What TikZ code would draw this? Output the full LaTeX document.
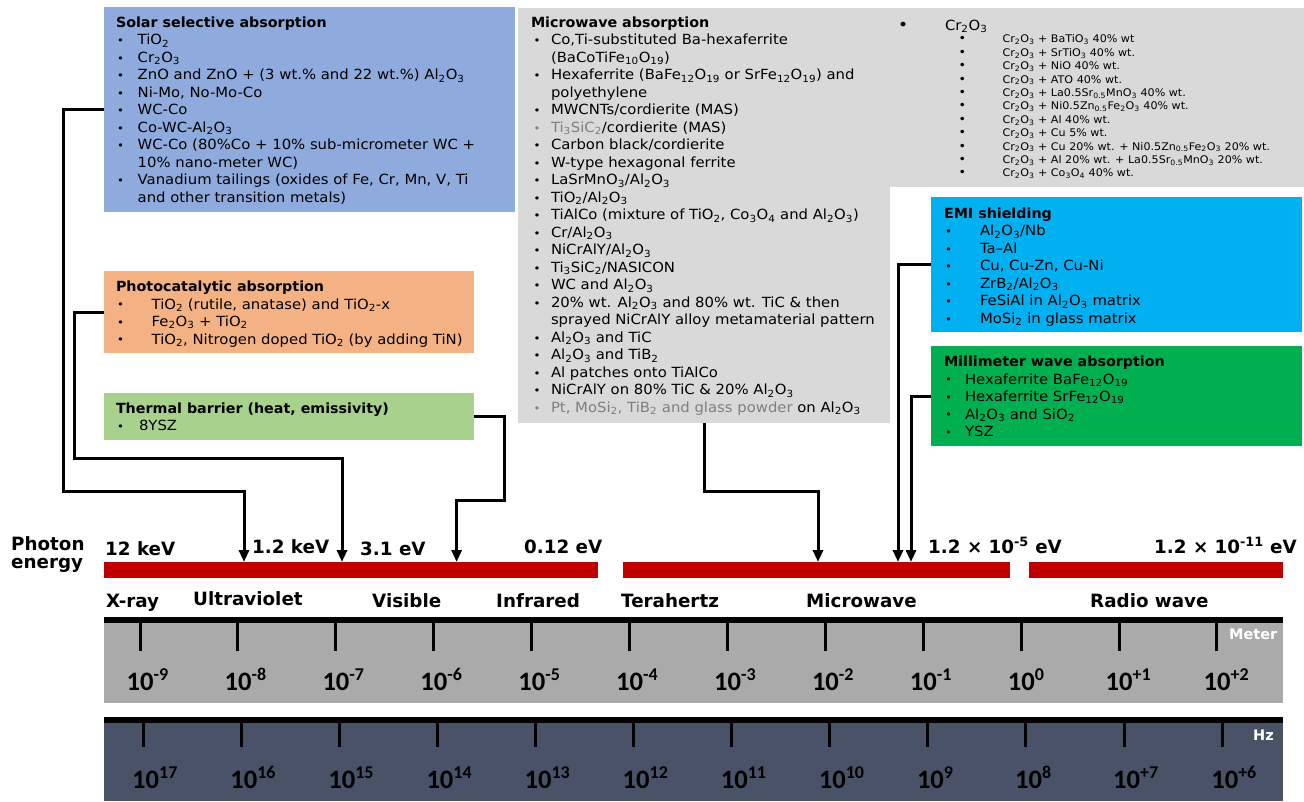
\documentclass[tikz,border=0pt]{standalone}
\usepackage{fontspec}
\setmainfont{DejaVu Sans}
\newfontfamily\bx[FakeStretch=1.06]{DejaVu Sans}
\newfontfamily\bxb[FakeStretch=1.02]{DejaVu Sans}
\newfontfamily\calib{Carlito}
\usetikzlibrary{arrows.meta}
\definecolor{solarc}{HTML}{8FAADC}
\definecolor{photoc}{HTML}{F4B183}
\definecolor{thermc}{HTML}{A9D18E}
\definecolor{grayc}{HTML}{D9D9D9}
\definecolor{emic}{HTML}{00B0F0}
\definecolor{mmc}{HTML}{00B050}
\definecolor{barc}{HTML}{C00000}
\definecolor{meterc}{HTML}{AAAAAA}
\definecolor{hzc}{HTML}{4A5268}
\definecolor{greytxt}{HTML}{7F7F7F}
\newcommand\sbx[1]{\textsubscript{#1}}
\newcommand\spx[1]{\textsuperscript{#1}}
\newcommand\bl[2][1pt]{\makebox[#2][l]{\hspace*{#1}\raisebox{0.3pt}{\fontsize{11}{11}\selectfont •}}}
\newcommand\sbl{\makebox[44pt][l]{\fontsize{12}{12}\selectfont •}}
\newcommand\cro{Cr\sbx{2}O\sbx{3}}
\newcommand\alo{Al\sbx{2}O\sbx{3}}
\newcommand\tp[1]{{\calib\bfseries\fontsize{26.6}{26.6}\selectfont 10\raisebox{10pt}{\fontsize{18}{18}\selectfont #1}}}
\begin{document}
\begin{tikzpicture}[x=1pt,y=-1pt,
 box/.style={rectangle, inner sep=0pt, outer sep=0pt, anchor=north west},
 txt/.style={inner sep=0pt, outer sep=0pt, anchor=north west, align=left, font={\bx\fontsize{14}{17.5}\selectfont}},
 smalltxt/.style={txt, font={\bx\fontsize{10.5}{13.4}\selectfont}},
 conn/.style={line width=3pt, -{Triangle[length=12pt,width=10pt]}},
 lbl/.style={inner sep=0pt, anchor=base west, font={\bfseries\fontsize{18.3}{18.3}\selectfont}},
 tickline/.style={line width=3pt},
 num/.style={inner sep=0pt, anchor=base west},
 unitlbl/.style={inner sep=0pt, anchor=base west, text=white, font={\bfseries\fontsize{14.5}{14.5}\selectfont}}
]
\useasboundingbox (0,0) rectangle (1304,801);

% boxes
\node[box, fill=solarc, minimum width=411, minimum height=205] (solar) at (104,7) {};
\node[box, fill=photoc, minimum width=370, minimum height=82] (photo) at (104,271) {};
\node[box, fill=thermc, minimum width=370, minimum height=47] (therm) at (104,393) {};
\node[box, fill=grayc, minimum width=415, minimum height=179] (crbox) at (889,8) {};
\node[box, fill=grayc, minimum width=372, minimum height=415] (micro) at (518,8) {};
\node[box, fill=emic, minimum width=371, minimum height=135] (emi) at (931,197) {};
\node[box, fill=mmc, minimum width=371, minimum height=100] (mm) at (931,346) {};

% box texts
\node[txt] (solartxt) at (116,16.7) {{\bxb\bfseries Solar selective absorption}\\
\bl{21.7pt}TiO\sbx{2}\\
\bl{21.7pt}\cro\\
\bl{21.7pt}ZnO and ZnO + (3 wt.\% and 22 wt.\%) \alo\\
\bl{21.7pt}Ni-Mo, No-Mo-Co\\
\bl{21.7pt}WC-Co\\
\bl{21.7pt}Co-WC-\alo\\
\bl{21.7pt}WC-Co (80\%Co + 10\% sub-micrometer WC +\\
\hspace*{21.7pt}10\% nano-meter WC)\\
\bl{21.7pt}Vanadium tailings (oxides of Fe, Cr, Mn, V, Ti\\
\hspace*{21.7pt}and other transition metals)};

\node[txt] (phototxt) at (116,281) {{\bxb\bfseries Photocatalytic absorption}\\
\bl{35.7pt}TiO\sbx{2} (rutile, anatase) and TiO\sbx{2}-x\\
\bl{35.7pt}Fe\sbx{2}O\sbx{3} + TiO\sbx{2}\\
\bl{35.7pt}TiO\sbx{2}, Nitrogen doped TiO\sbx{2} (by adding TiN)};

\node[txt] (thermtxt) at (116,402.7) {{\bxb\bfseries Thermal barrier (heat, emissivity)}\\
\bl{23pt}8YSZ};

\node[txt] (microtxt) at (531,16.7) {{\bxb\bfseries Microwave absorption}\\
\bl[2.5pt]{20pt}Co,Ti-substituted Ba-hexaferrite\\
\hspace*{20pt}(BaCoTiFe\sbx{10}O\sbx{19})\\
\bl[2.5pt]{20pt}Hexaferrite (BaFe\sbx{12}O\sbx{19} or SrFe\sbx{12}O\sbx{19}) and\\
\hspace*{20pt}polyethylene\\
\bl[2.5pt]{20pt}MWCNTs/cordierite (MAS)\\
{\color{greytxt}\bl[2.5pt]{20pt}Ti\sbx{3}SiC\sbx{2}}/cordierite (MAS)\\
\bl[2.5pt]{20pt}Carbon black/cordierite\\
\bl[2.5pt]{20pt}W-type hexagonal ferrite\\
\bl[2.5pt]{20pt}LaSrMnO\sbx{3}/\alo\\
\bl[2.5pt]{20pt}TiO\sbx{2}/\alo\\
\bl[2.5pt]{20pt}TiAlCo (mixture of TiO\sbx{2}, Co\sbx{3}O\sbx{4} and \alo)\\
\bl[2.5pt]{20pt}Cr/\alo\\
\bl[2.5pt]{20pt}NiCrAlY/\alo\\
\bl[2.5pt]{20pt}Ti\sbx{3}SiC\sbx{2}/NASICON\\
\bl[2.5pt]{20pt}WC and \alo\\
\bl[2.5pt]{20pt}20\% wt. \alo{} and 80\% wt. TiC \& then\\
\hspace*{20pt}sprayed NiCrAlY alloy metamaterial pattern\\
\bl[2.5pt]{20pt}\alo{} and TiC\\
\bl[2.5pt]{20pt}\alo{} and TiB\sbx{2}\\
\bl[2.5pt]{20pt}Al patches onto TiAlCo\\
\bl[2.5pt]{20pt}NiCrAlY on 80\% TiC \& 20\% \alo\\
{\color{greytxt}\bl[2.5pt]{20pt}Pt, MoSi\sbx{2}, TiB\sbx{2} and glass powder} on \alo};

\node[txt] (crhead) at (898,19.7) {\makebox[47pt][l]{\fontsize{16}{16}\selectfont •}\cro};
\node[smalltxt] (crlist) at (958.5,35) {\sbl\cro{} + BaTiO\sbx{3} 40\% wt\\
\sbl\cro{} + SrTiO\sbx{3} 40\% wt.\\
\sbl\cro{} + NiO 40\% wt.\\
\sbl\cro{} + ATO 40\% wt.\\
\sbl\cro{} + La0.5Sr\sbx{0.5}MnO\sbx{3} 40\% wt.\\
\sbl\cro{} + Ni0.5Zn\sbx{0.5}Fe\sbx{2}O\sbx{3} 40\% wt.\\
\sbl\cro{} + Al 40\% wt.\\
\sbl\cro{} + Cu 5\% wt.\\
\sbl\cro{} + Cu 20\% wt. + Ni0.5Zn\sbx{0.5}Fe\sbx{2}O\sbx{3} 20\% wt.\\
\sbl\cro{} + Al 20\% wt. + La0.5Sr\sbx{0.5}MnO\sbx{3} 20\% wt.\\
\sbl\cro{} + Co\sbx{3}O\sbx{4} 40\% wt.};

\node[txt] (emitxt) at (944,207.7) {{\bxb\bfseries EMI shielding}\\
\bl{36pt}\alo/Nb\\
\bl{36pt}Ta–Al\\
\bl{36pt}Cu, Cu-Zn, Cu-Ni\\
\bl{36pt}ZrB\sbx{2}/\alo\\
\bl{36pt}FeSiAl in \alo{} matrix\\
\bl{36pt}MoSi\sbx{2} in glass matrix};

\node[txt] (mmtxt) at (944,356) {{\bxb\bfseries Millimeter wave absorption}\\
\bl{21pt}Hexaferrite BaFe\sbx{12}O\sbx{19}\\
\bl{21pt}Hexaferrite SrFe\sbx{12}O\sbx{19}\\
\bl{21pt}\alo{} and SiO\sbx{2}\\
\bl{21pt}YSZ};

% photon energy bars
\node[box, fill=barc, minimum width=494, minimum height=16] (bar1) at (104,562) {};
\node[box, fill=barc, minimum width=387, minimum height=16] (bar2) at (623,562) {};
\node[box, fill=barc, minimum width=254, minimum height=16] (bar3) at (1029,562) {};

\node[inner sep=0pt, anchor=north west, align=left, font={\bfseries\fontsize{18.3}{18.3}\selectfont}] (photon) at (11,536.5) {Photon\\energy};
\node[lbl] (e1) at (105,555) {12 keV};
\node[lbl] (e2) at (252,553.3) {1.2 keV};
\node[lbl] (e3) at (360,555) {3.1 eV};
\node[lbl] (e4) at (524,553) {0.12 eV};
\node[lbl] (e5) at (928,553) {1.2 × 10\spx{-5} eV};
\node[lbl] (e6) at (1154,553) {1.2 × 10\spx{-11} eV};

\node[lbl] (b1) at (106,607) {X-ray};
\node[lbl] (b2) at (193,605) {Ultraviolet};
\node[lbl] (b3) at (372,607) {Visible};
\node[lbl] (b4) at (496,607) {Infrared};
\node[lbl] (b5) at (621,607) {Terahertz};
\node[lbl] (b6) at (806,607) {Microwave};
\node[lbl] (b7) at (1090,607) {Radio wave};

% connectors
\coordinate (sA) at (63,491);
\coordinate (sB) at (244,491);
\draw[conn] (solar.west) -| (sA) -- (sB) -- (sB |- bar1.north);
\coordinate (pA) at (74.5,458);
\coordinate (pB) at (342,458);
\draw[conn] (photo.west) -| (pA) -- (pB) -- (pB |- bar1.north);
\coordinate (tA) at (504,500);
\coordinate (tB) at (456.6,500);
\draw[conn] (therm.east) -| (tA) -- (tB) -- (tB |- bar1.north);
\coordinate (mA) at (818,491);
\draw[conn] (micro.south) |- (mA) -- (mA |- bar2.north);
\coordinate (eA) at (898,0);
\draw[conn] (emi.west) -| (eA |- bar2.north);
\coordinate (mmA) at (911,0);
\draw[conn] (mm.west) -| (mmA |- bar2.north);

% wavelength scale
\node[box, fill=meterc, minimum width=1179, minimum height=83] (meter) at (104,620) {};
\draw[line width=6pt] (meter.north west) -- (meter.north east);
\foreach \i/\e in {0/-9,1/-8,2/-7,3/-6,4/-5,5/-4,6/-3,7/-2,8/-1,9/0,10/+1,11/+2}{
  \draw[tickline] (140+97.9*\i,620) -- ++(0,31);
  \node[num] (ml\i) at (126.5+97.9*\i,690) {\tp{\e}};
}
\node[unitlbl] (meterlbl) at (1229,639.3) {Meter};

% frequency scale
\node[box, fill=hzc, minimum width=1179, minimum height=81] (hz) at (104,720) {};
\draw[line width=6pt] (hz.north west) -- (hz.north east);
\foreach \i/\e in {0/17,1/16,2/15,3/14,4/13,5/12,6/11,7/10,8/9,9/8,10/+7,11/+6}{
  \draw[tickline] (143+98.1*\i,720) -- ++(0,27);
  \node[num] (hl\i) at (132+98.1*\i,788.3) {\tp{\e}};
}
\node[unitlbl] (hzlbl) at (1253,740.7) {Hz};
\end{tikzpicture}
\end{document}
